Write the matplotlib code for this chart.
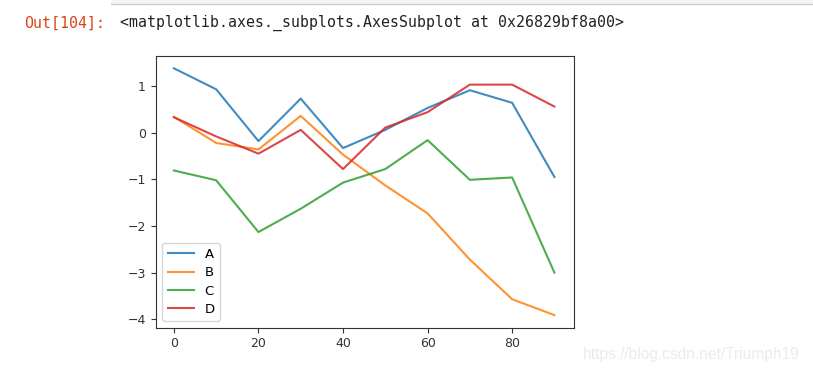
import numpy as np
import matplotlib.pyplot as plt
from matplotlib.patches import Rectangle
from matplotlib.lines import Line2D

# dữ liệu
x = [0, 10, 20, 30, 40, 50, 60, 70, 80, 90]
a = [1.38, 0.93, -0.18, 0.73, -0.33, 0.06, 0.53, 0.91, 0.64, -0.95]
b = [0.34, -0.22, -0.36, 0.36, -0.47, -1.13, -1.73, -2.72, -3.57, -3.91]
c = [-0.81, -1.02, -2.13, -1.63, -1.07, -0.78, -0.16, -1.01, -0.96, -3.00]
d = [0.33, -0.08, -0.45, 0.06, -0.78, 0.11, 0.44, 1.03, 1.03, 0.56]
names = ['A', 'B', 'C', 'D']

W, H = 813, 372
fig = plt.figure(figsize=(W / 100, H / 100), dpi=100)

# ── khung cell phía trên (Jupyter) ──
fig.add_artist(Rectangle((111 / W, 1 - 3.5 / H), 1 - 111 / W, 3.5 / H,
                         transform=fig.transFigure, facecolor='#f5f5f5',
                         edgecolor='none'))
fig.add_artist(Line2D([111 / W, 1], [1 - 3.5 / H, 1 - 3.5 / H],
                      transform=fig.transFigure, color='#cfcfcf', lw=1))

fig.text(24 / W, 1 - 23 / H, 'Out[104]:', color='#d84315',
         family='DejaVu Sans Mono', fontsize=10.7, va='center')
fig.text(120 / W, 1 - 23 / H,
         '<matplotlib.axes._subplots.AxesSubplot at 0x26829bf8a00>',
         color='#222222', family='DejaVu Sans Mono', fontsize=10.7,
         va='center')

# ── biểu đồ ──
ax = fig.add_axes([155.7 / W, 1 - 327.7 / H, 418.6 / W, 272 / H])
for name, ys in zip(names, [a, b, c, d]):
    ax.plot(x, ys, lw=1.5, label=name, alpha=0.85)

ax.set_xlim(-4.3, 94.7)
ax.set_ylim(-4.18, 1.65)
ax.set_xticks([0, 20, 40, 60, 80])
ax.set_yticks([-4, -3, -2, -1, 0, 1])
ax.tick_params(labelsize=9, colors='#333333')
for s in ax.spines.values():
    s.set_color('#333333')
ax.legend(loc='lower left', fontsize=9.5, labelspacing=0.4)

# watermark
fig.text(583 / W, 1 - 355 / H, 'https://blog.csdn.net/Triumph19',
         color='#ebebeb', family='Liberation Sans', fontsize=11.2,
         va='center')

plt.savefig('out.png', dpi=100)
